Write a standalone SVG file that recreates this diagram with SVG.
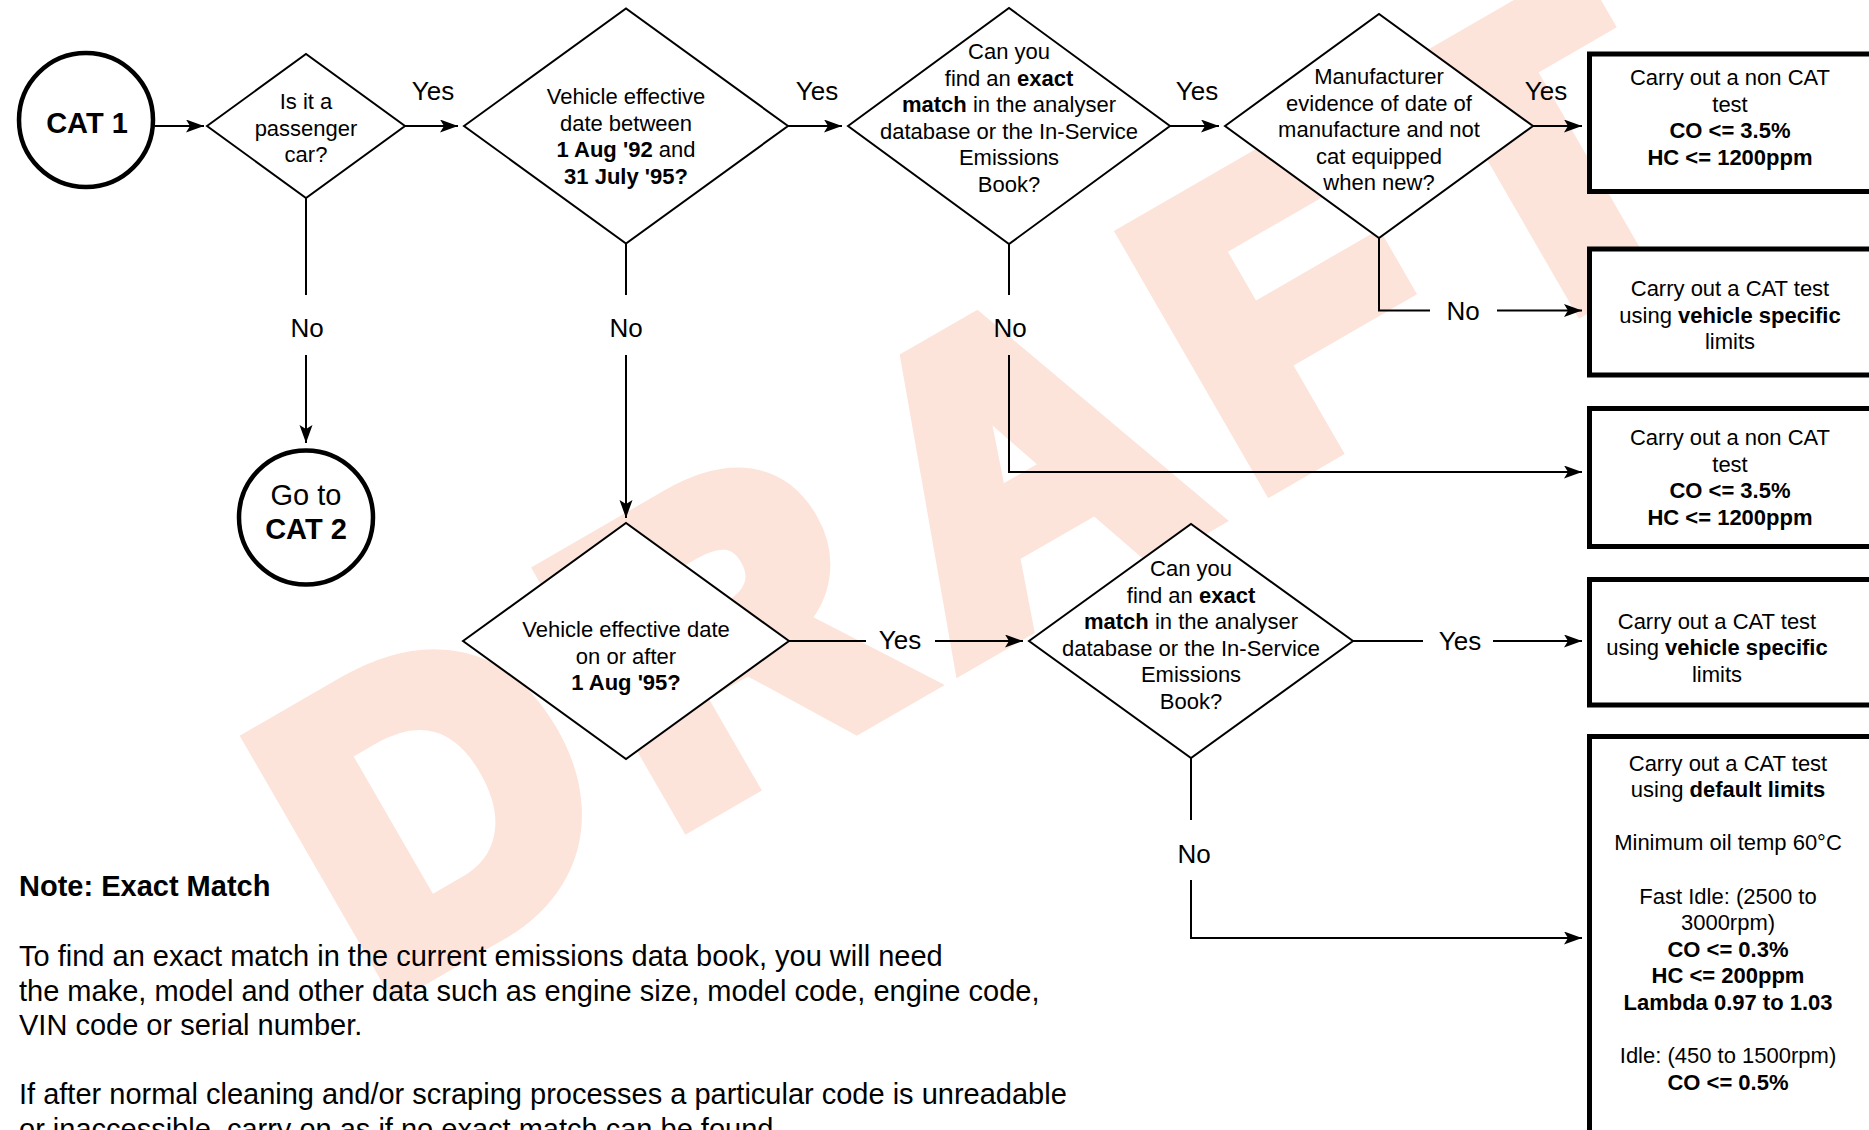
<svg xmlns="http://www.w3.org/2000/svg" width="1869" height="1130" viewBox="0 0 1869 1130">
<defs>
<style>
.dia{fill:#fff;stroke:#000;stroke-width:2}
.box{fill:#fff;stroke:#000;stroke-width:5}
.term{fill:#fff;stroke:#000;stroke-width:4.5}
.t{font-family:"Liberation Sans",Arial,Helvetica,sans-serif;font-size:22px;text-anchor:middle;fill:#000}
.big{font-size:29px}
.lbl{font-family:"Liberation Sans",Arial,Helvetica,sans-serif;font-size:26px;text-anchor:middle;fill:#000}
.note{font-family:"Liberation Sans",Arial,Helvetica,sans-serif;font-size:29px;fill:#000}
.b{font-weight:bold}
.conn{fill:none;stroke:#000;stroke-width:2}
.wm{font-family:"Liberation Sans",Arial,Helvetica,sans-serif;font-weight:bold;font-size:405px;fill:#fde4da;stroke:#fde4da;stroke-width:30;stroke-linejoin:miter}
</style>
<marker id="arr" markerUnits="userSpaceOnUse" markerWidth="20" markerHeight="14" refX="18" refY="6.5" orient="auto">
<path d="M0,0 L18,6.5 L0,13 L4,6.5 Z" fill="#000"/>
</marker>
</defs>
<rect width="1869" height="1130" fill="#fff"/>
<text class="wm" transform="translate(376,996) rotate(-30)">D<tspan dx="44">R</tspan><tspan dx="44">A</tspan><tspan dx="44">F</tspan><tspan dx="44">T</tspan></text>

<g id="connectors">
<path class="conn" d="M155,126 H204" marker-end="url(#arr)"/>
<path class="conn" d="M405,126 H458" marker-end="url(#arr)"/>
<path class="conn" d="M788,126 H842" marker-end="url(#arr)"/>
<path class="conn" d="M1170,126 H1219" marker-end="url(#arr)"/>
<path class="conn" d="M1533,126 H1582" marker-end="url(#arr)"/>
<path class="conn" d="M306,198 V295"/>
<path class="conn" d="M306,355 V443" marker-end="url(#arr)"/>
<path class="conn" d="M626,243 V295"/>
<path class="conn" d="M626,355 V518" marker-end="url(#arr)"/>
<path class="conn" d="M1009,244 V295"/>
<path class="conn" d="M1009,355 V472 H1582" marker-end="url(#arr)"/>
<path class="conn" d="M1379,238 V310.5 H1430"/>
<path class="conn" d="M1497,310.5 H1582" marker-end="url(#arr)"/>
<path class="conn" d="M789,641 H866"/>
<path class="conn" d="M935,641 H1023" marker-end="url(#arr)"/>
<path class="conn" d="M1353,641 H1423"/>
<path class="conn" d="M1493,641 H1582" marker-end="url(#arr)"/>
<path class="conn" d="M1191,758 V820"/>
<path class="conn" d="M1191,880 V938 H1582" marker-end="url(#arr)"/>
<text class="lbl" x="433" y="100">Yes</text>
<text class="lbl" x="817" y="100">Yes</text>
<text class="lbl" x="1197" y="100">Yes</text>
<text class="lbl" x="1546" y="100">Yes</text>
<text class="lbl" x="307" y="337">No</text>
<text class="lbl" x="626" y="337">No</text>
<text class="lbl" x="1010" y="337">No</text>
<text class="lbl" x="1463" y="320">No</text>
<text class="lbl" x="900" y="649">Yes</text>
<text class="lbl" x="1460" y="650">Yes</text>
<text class="lbl" x="1194" y="863">No</text>
</g>

<g id="cat1">
<circle class="term" cx="86" cy="120" r="67"/>
<text class="t big b" x="87" y="133">CAT 1</text>
</g>

<g id="q-passenger">
<polygon class="dia" points="207,126 306,54 405,126 306,198"/>
<text class="t" x="306" y="109">Is it a</text>
<text class="t" x="306" y="135.5">passenger</text>
<text class="t" x="306" y="162">car?</text>
</g>

<g id="q-date92">
<polygon class="dia" points="464,126 626,8.5 788,126 626,243.5"/>
<text class="t" x="626" y="104">Vehicle effective</text>
<text class="t" x="626" y="130.5">date between</text>
<text class="t" x="626" y="157"><tspan class="b">1 Aug '92</tspan> and</text>
<text class="t b" x="626" y="183.5">31 July '95?</text>
</g>

<g id="q-match1">
<polygon class="dia" points="848,126 1009,8 1170,126 1009,244"/>
<text class="t" x="1009" y="59">Can you</text>
<text class="t" x="1009" y="85.5">find an <tspan class="b">exact</tspan></text>
<text class="t" x="1009" y="112"><tspan class="b">match</tspan> in the analyser</text>
<text class="t" x="1009" y="138.5">database or the In-Service</text>
<text class="t" x="1009" y="165">Emissions</text>
<text class="t" x="1009" y="191.5">Book?</text>
</g>

<g id="q-manufacturer">
<polygon class="dia" points="1225,126 1379,14 1533,126 1379,238"/>
<text class="t" x="1379" y="84">Manufacturer</text>
<text class="t" x="1379" y="110.5">evidence of date of</text>
<text class="t" x="1379" y="137">manufacture and not</text>
<text class="t" x="1379" y="163.5">cat equipped</text>
<text class="t" x="1379" y="190">when new?</text>
</g>

<g id="box-noncat1">
<rect class="box" x="1589.5" y="54" width="300" height="137.5"/>
<text class="t" x="1730" y="85">Carry out a non CAT</text>
<text class="t" x="1730" y="111.5">test</text>
<text class="t b" x="1730" y="138">CO &lt;= 3.5%</text>
<text class="t b" x="1730" y="164.5">HC &lt;= 1200ppm</text>
</g>

<g id="box-cat-specific1">
<rect class="box" x="1589.5" y="249" width="300" height="126"/>
<text class="t" x="1730" y="296">Carry out a CAT test</text>
<text class="t" x="1730" y="322.5">using <tspan class="b">vehicle specific</tspan></text>
<text class="t" x="1730" y="349">limits</text>
</g>

<g id="box-noncat2">
<rect class="box" x="1589.5" y="408.5" width="300" height="138"/>
<text class="t" x="1730" y="445">Carry out a non CAT</text>
<text class="t" x="1730" y="471.5">test</text>
<text class="t b" x="1730" y="498">CO &lt;= 3.5%</text>
<text class="t b" x="1730" y="524.5">HC &lt;= 1200ppm</text>
</g>

<g id="cat2">
<circle class="term" cx="306" cy="517.5" r="67"/>
<text class="t big" x="306" y="505">Go to</text>
<text class="t big b" x="306" y="539">CAT 2</text>
</g>

<g id="q-date95">
<polygon class="dia" points="463,641 626,523 789,641 626,759"/>
<text class="t" x="626" y="637">Vehicle effective date</text>
<text class="t" x="626" y="663.5">on or after</text>
<text class="t b" x="626" y="690">1 Aug '95?</text>
</g>

<g id="q-match2">
<polygon class="dia" points="1029,641 1191,524 1353,641 1191,758"/>
<text class="t" x="1191" y="576">Can you</text>
<text class="t" x="1191" y="602.5">find an <tspan class="b">exact</tspan></text>
<text class="t" x="1191" y="629"><tspan class="b">match</tspan> in the analyser</text>
<text class="t" x="1191" y="655.5">database or the In-Service</text>
<text class="t" x="1191" y="682">Emissions</text>
<text class="t" x="1191" y="708.5">Book?</text>
</g>

<g id="box-cat-specific2">
<rect class="box" x="1589.5" y="579.5" width="300" height="125.5"/>
<text class="t" x="1717" y="628.5">Carry out a CAT test</text>
<text class="t" x="1717" y="655">using <tspan class="b">vehicle specific</tspan></text>
<text class="t" x="1717" y="681.5">limits</text>
</g>

<g id="box-cat-default">
<rect class="box" x="1589.5" y="736.5" width="300" height="500"/>
<text class="t" x="1728" y="770.5">Carry out a CAT test</text>
<text class="t" x="1728" y="797">using <tspan class="b">default limits</tspan></text>
<text class="t" x="1728" y="850.3">Minimum oil temp 60°C</text>
<text class="t" x="1728" y="903.5">Fast Idle: (2500 to</text>
<text class="t" x="1728" y="930.1">3000rpm)</text>
<text class="t b" x="1728" y="956.7">CO &lt;= 0.3%</text>
<text class="t b" x="1728" y="983.3">HC &lt;= 200ppm</text>
<text class="t b" x="1728" y="1009.9">Lambda 0.97 to 1.03</text>
<text class="t" x="1728" y="1063.1">Idle: (450 to 1500rpm)</text>
<text class="t b" x="1728" y="1089.7">CO &lt;= 0.5%</text>
</g>

<g id="note">
<text class="note b" x="19" y="896">Note: Exact Match</text>
<text class="note" x="19" y="966">To find an exact match in the current emissions data book, you will need</text>
<text class="note" x="19" y="1000.5">the make, model and other data such as engine size, model code, engine code,</text>
<text class="note" x="19" y="1035">VIN code or serial number.</text>
<text class="note" x="19" y="1104">If after normal cleaning and/or scraping processes a particular code is unreadable</text>
<text class="note" x="19" y="1138.5">or inaccessible, carry on as if no exact match can be found.</text>
</g>
</svg>
